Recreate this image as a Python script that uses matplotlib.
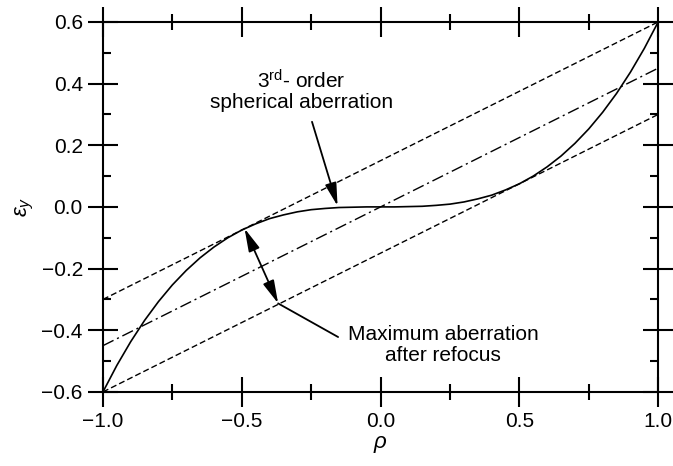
import numpy as np
import matplotlib
matplotlib.use('Agg')
import matplotlib.pyplot as plt
from matplotlib.ticker import MultipleLocator

plt.rcParams['font.family'] = ['Liberation Sans', 'DejaVu Sans']
plt.rcParams['mathtext.fontset'] = 'custom'
plt.rcParams['mathtext.rm'] = 'Liberation Sans'
plt.rcParams['mathtext.it'] = 'Liberation Sans:italic'

# solid curve
rho = [-1.00, -0.95, -0.90, -0.85, -0.80, -0.75, -0.70, -0.65, -0.60, -0.55, -0.50,
       -0.45, -0.40, -0.35, -0.30, -0.25, -0.20, -0.15, -0.10, -0.05, 0.00,
       0.05, 0.10, 0.15, 0.20, 0.25, 0.30, 0.35, 0.40, 0.45, 0.50,
       0.55, 0.60, 0.65, 0.70, 0.75, 0.80, 0.85, 0.90, 0.95, 1.00]
eps = [-0.600, -0.514, -0.437, -0.368, -0.307, -0.253, -0.206, -0.165, -0.130, -0.100, -0.075,
       -0.055, -0.038, -0.026, -0.016, -0.009, -0.005, -0.002, -0.001, 0.000, 0.000,
       0.000, 0.001, 0.002, 0.005, 0.009, 0.016, 0.026, 0.038, 0.055, 0.075,
       0.100, 0.130, 0.165, 0.206, 0.253, 0.307, 0.368, 0.437, 0.514, 0.600]

# straight reference lines (end points)
line_x = [-1.0, 1.0]
upper = [-0.30, 0.60]
middle = [-0.45, 0.45]
lower = [-0.60, 0.30]

x_ticks = [-1.0, -0.5, 0.0, 0.5, 1.0]
x_labels = ['\u22121.0', '\u22120.5', '0.0', '0.5', '1.0']
y_ticks = [-0.6, -0.4, -0.2, 0.0, 0.2, 0.4, 0.6]
y_labels = ['\u22120.6', '\u22120.4', '\u22120.2', '0.0', '0.2', '0.4', '0.6']

fig = plt.figure(figsize=(6.73, 4.66), dpi=100)
ax = fig.add_axes([0.153, 0.159, 0.825, 0.794])

ax.plot(rho, eps, color='black', lw=1.2)
ax.plot(line_x, upper, color='black', lw=1.0, dashes=(4.3, 2.2))
ax.plot(line_x, middle, color='black', lw=1.0, dashes=(8.5, 2.8, 1.5, 2.8))
ax.plot(line_x, lower, color='black', lw=1.0, dashes=(4.3, 2.2))

ax.set_xlim(-1, 1)
ax.set_ylim(-0.6, 0.6)
ax.set_xticks(x_ticks)
ax.set_xticklabels(x_labels)
ax.set_yticks(y_ticks)
ax.set_yticklabels(y_labels)
ax.xaxis.set_minor_locator(MultipleLocator(0.25))
ax.yaxis.set_minor_locator(MultipleLocator(0.1))

for s in ax.spines.values():
    s.set_linewidth(1.5)

ax.tick_params(which='major', direction='inout', length=21, width=1.5,
               top=True, right=True, labelsize=15, pad=4)
ax.tick_params(axis='x', which='minor', direction='inout', length=11, width=1.5,
               top=True, bottom=True)
ax.tick_params(axis='y', which='minor', direction='in', length=6, width=1.5,
               left=True, right=True)

ax.set_xlabel(r'$\rho$', fontsize=16, labelpad=2)
ax.set_ylabel(r'$\varepsilon_y$', fontsize=16, labelpad=4)

head = 'head_length=1.4,head_width=0.35'

# upper label and arrow
ax.text(-0.286, 0.41, r'3$^{\rm rd}$- order', fontsize=15, ha='center', va='center')
ax.text(-0.286, 0.337, 'spherical aberration', fontsize=15, ha='center', va='center')
ax.annotate('', xy=(-0.155, 0.003), xytext=(-0.247, 0.276),
            arrowprops=dict(arrowstyle='-|>,' + head,
                            color='black', lw=1.3, shrinkA=0, shrinkB=0))

# double arrow between curve and lower line
ax.annotate('', xy=(-0.369, -0.313), xytext=(-0.49, -0.07),
            arrowprops=dict(arrowstyle='<|-|>,' + head,
                            color='black', lw=1.3, shrinkA=0, shrinkB=0))
ax.annotate('', xy=(-0.369, -0.313), xytext=(-0.153, -0.422),
            arrowprops=dict(arrowstyle='-', color='black', lw=1.3,
                            shrinkA=0, shrinkB=0))
ax.text(0.225, -0.448, 'Maximum aberration\nafter refocus', fontsize=15,
        ha='center', va='center', multialignment='center', linespacing=1.15)

fig.savefig('out.png', dpi=100)
